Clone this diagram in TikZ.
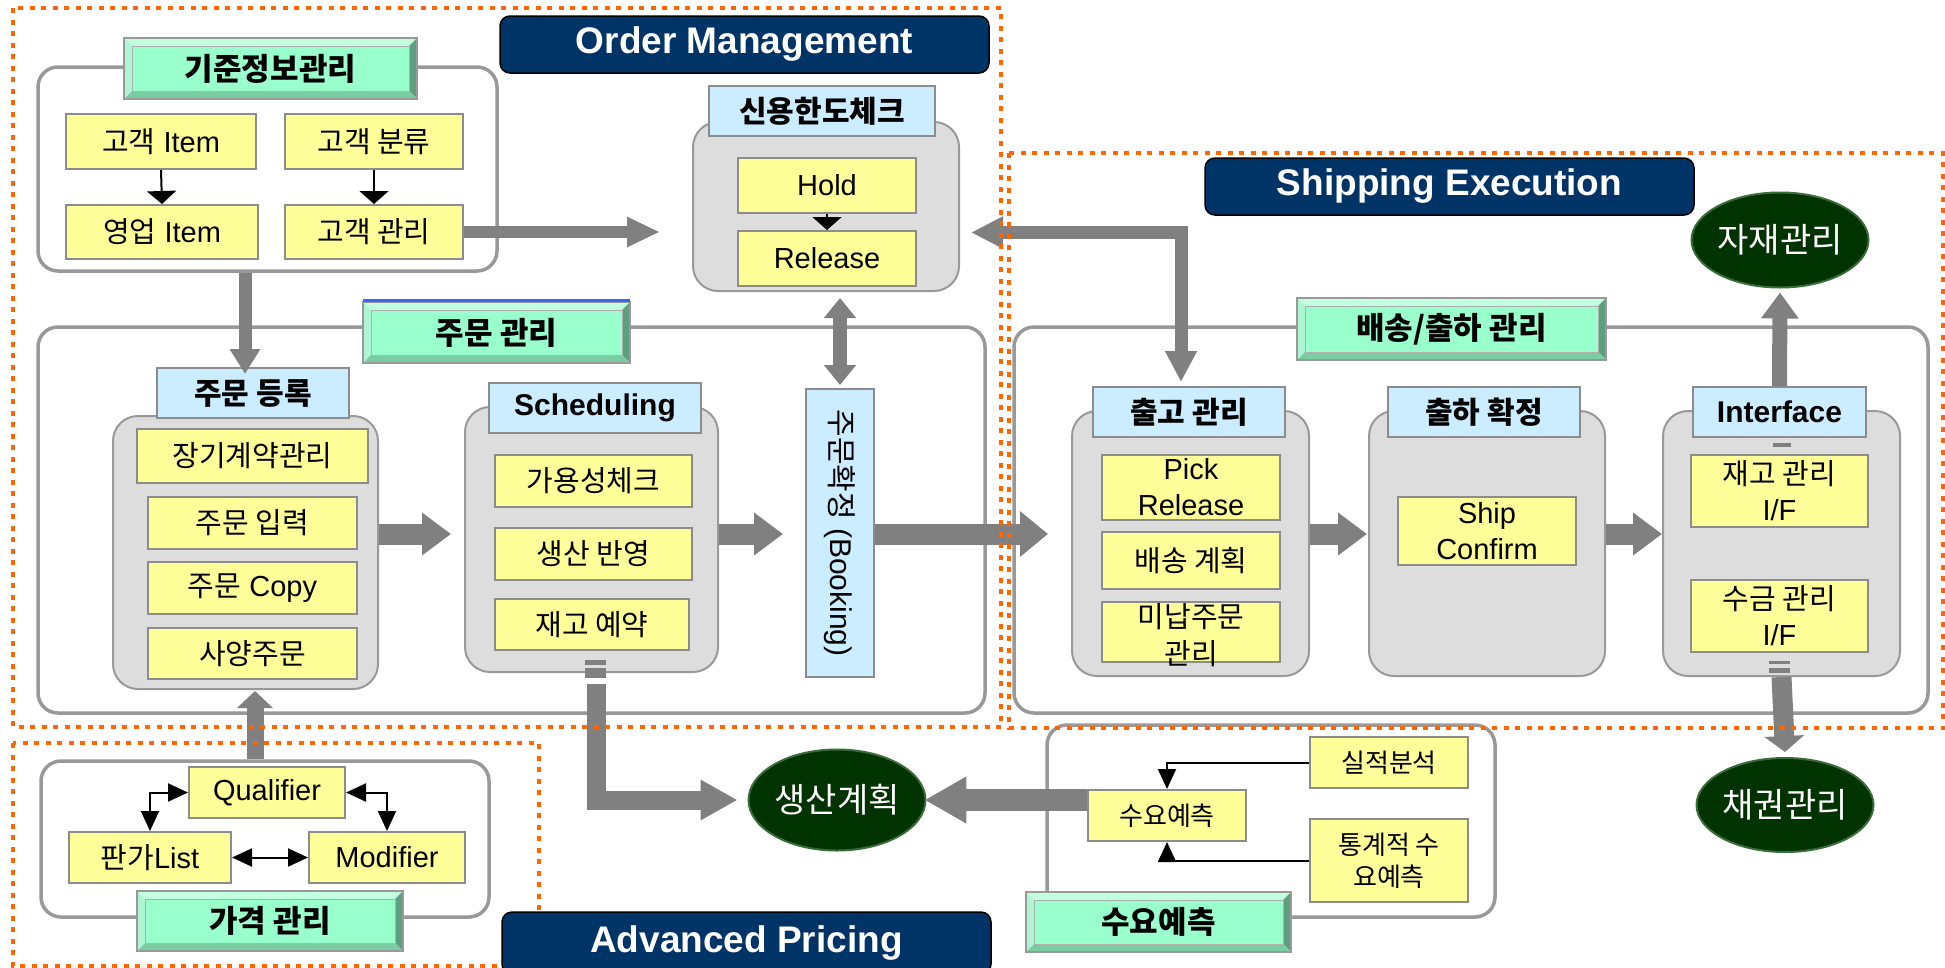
\documentclass[tikz,border=0pt]{standalone}
\usepackage{fontspec}
\setmainfont{Liberation Sans}
\newfontfamily\kr{Noto Sans CJK KR}
\usetikzlibrary{arrows.meta,calc,shapes.geometric}
\definecolor{navy}{HTML}{003366}
\definecolor{orng}{HTML}{FF6600}
\definecolor{blkgray}{HTML}{999999}
\definecolor{grpfill}{HTML}{DDDDDD}
\definecolor{yel}{HTML}{FFFF99}
\definecolor{ltblue}{HTML}{CCECFF}
\definecolor{arrgray}{HTML}{808080}
\definecolor{dkgreen}{HTML}{003300}
\definecolor{ovalrim}{HTML}{3A6B3A}
\definecolor{bvface}{HTML}{99FFCC}
\definecolor{bvtopc}{HTML}{C2FFE0}
\definecolor{bvleftc}{HTML}{B0F5D3}
\definecolor{bvrightc}{HTML}{5F9E7E}
\definecolor{bvbotc}{HTML}{7ACCA3}
\definecolor{edgegray}{HTML}{8C8C8C}
\definecolor{selblue}{HTML}{3366FF}
\tikzset{
  block/.style={draw=blkgray, line width=3.5pt, fill=white, rounded corners=20pt, inner sep=0pt},
  group/.style={draw=blkgray, line width=2pt, fill=grpfill, rounded corners=25pt, inner sep=0pt},
  item/.style={draw=edgegray, line width=2pt, fill=yel, inner sep=0pt, align=center, font=\fontsize{29}{36}\selectfont},
  itemsm/.style={draw=edgegray, line width=2pt, fill=yel, inner sep=0pt, align=center, font=\fontsize{26}{32}\selectfont},
  gtitle/.style={draw=edgegray, line width=2pt, fill=ltblue, inner sep=0pt, align=center, font=\fontsize{30}{34}\selectfont\bfseries},
  bkbox/.style={draw=edgegray, line width=2pt, fill=ltblue, inner sep=0pt},
  bvfacest/.style={draw=edgegray!70, line width=1pt, fill=bvface, inner sep=0pt, font=\fontsize{31}{34}\selectfont\bfseries},
  bvline/.style={draw=blkgray, line width=1.5pt},
  navylabel/.style={draw=black, line width=1.5pt, fill=navy, rounded corners=10pt, text=white, inner sep=0pt, font=\fontsize{37}{40}\selectfont\bfseries},
  oval/.style={ellipse, fill=dkgreen, draw=ovalrim, line width=2pt, text=white, inner sep=0pt, font=\fontsize{34}{38}\selectfont},
  region/.style={draw=orng, line width=4.5pt, dash pattern=on 5pt off 6.5pt},
  fatbase/.style={draw=arrgray},
  arrA/.style={fatbase, line width=12pt, -{Triangle[width=28pt,length=33pt]}},
  arrB/.style={fatbase, line width=13pt, -{Triangle[width=29pt,length=25pt]}},
  arrDbl/.style={fatbase, line width=14pt, {Triangle[width=31pt,length=20pt]}-{Triangle[width=31pt,length=20pt]}},
  arrElbow/.style={fatbase, line width=13pt, {Triangle[width=30pt,length=31pt]}-{Triangle[width=30pt,length=32pt]}},
  arrRow/.style={fatbase, line width=21pt, -{Triangle[width=41pt,length=29pt]}},
  arrUp/.style={fatbase, line width=15pt, -{Triangle[width=36pt,length=26pt]}},
  arrDown/.style={fatbase, line width=20pt, -{Triangle[width=39pt,length=16pt]}},
  arrPlan/.style={fatbase, line width=19pt, -{Triangle[width=38pt,length=37pt]}},
  arrDem/.style={fatbase, line width=22pt, -{Triangle[width=44pt,length=42pt]}},
  arrPrice/.style={fatbase, line width=17pt, -{Triangle[width=35pt,length=17pt]}},
  thinA/.style={draw=black, line width=2pt, -{Triangle[width=29pt,length=13pt]}},
  thinB/.style={draw=black, line width=2pt, -{Triangle[width=18pt,length=20pt]}},
  thinC/.style={draw=black, line width=2pt, {Triangle[width=18pt,length=20pt]}-{Triangle[width=18pt,length=20pt]}},
}
\newcommand\boxnode[7]{\node[#2, minimum width={((#5)-(#3))*1pt}, minimum height={((#6)-(#4))*1pt}] (#1) at ({((#3)+(#5))/2},{((#4)+(#6))/2}) {#7};}
\newcommand\bevelttl[6]{%
  \fill[bvtopc] (#2,#3) -- (#4,#3) -- ({#4-8},{#3+8}) -- ({#2+8},{#3+8}) -- cycle;
  \fill[bvleftc] (#2,#3) -- ({#2+8},{#3+8}) -- ({#2+8},{#5-8}) -- (#2,#5) -- cycle;
  \fill[bvrightc] (#4,#3) -- (#4,#5) -- ({#4-8},{#5-8}) -- ({#4-8},{#3+8}) -- cycle;
  \fill[bvbotc] (#2,#5) -- (#4,#5) -- ({#4-8},{#5-8}) -- ({#2+8},{#5-8}) -- cycle;
  \boxnode{#1}{bvfacest}{#2+8}{#3+8}{#4-8}{#5-8}{#6}
  \draw[bvline] (#2,#3) rectangle (#4,#5);}
\begin{document}
\begin{tikzpicture}[x=1pt,y=-1pt]
\useasboundingbox (0,0) rectangle (1945,967);
\fill[white] (0,0) rectangle (1945,967);

% ---------- big blocks ----------
\boxnode{kijun}{block}{38}{67}{497}{271}{}
\boxnode{jumun}{block}{38}{327}{985}{713}{}
\boxnode{bs}{block}{1014}{327}{1928}{713}{}
\boxnode{sdb}{block}{1047}{725}{1495}{917}{}
\boxnode{price}{block}{41}{761}{489}{917}{}

% ---------- bevel titles ----------
\bevelttl{kijunT}{124}{38}{417}{99}{\kr 기준정보관리}
\bevelttl{jumunT}{363}{302}{630}{363}{\kr 주문 관리}
\draw[selblue, line width=3pt] (363,300.5) -- (630,300.5);
\bevelttl{bsT}{1297}{298}{1606}{360}{\kr 배송/출하 관리}
\bevelttl{sdT}{1026}{892}{1291}{952}{\kr 수요예측}
\bevelttl{priceT}{137}{891}{403}{951}{\kr 가격 관리}

% ---------- 기준정보관리 ----------
\boxnode{ci}{item}{66}{114}{256}{169}{{\kr 고객} Item}
\boxnode{cc}{item}{285}{114}{463}{169}{\kr 고객 분류}
\boxnode{yi}{item}{66}{205}{258}{259}{{\kr 영업} Item}
\boxnode{gm}{item}{285}{205}{463}{259}{\kr 고객 관리}

% ---------- 신용한도체크 ----------
\boxnode{credit}{group}{693}{122}{959}{291}{}
\boxnode{creditT}{gtitle}{709}{86}{935}{136}{\kr 신용한도체크}
\boxnode{hold}{item}{738}{158}{916}{213}{Hold}
\boxnode{rel}{item}{738}{231}{916}{286}{Release}

% ---------- 주문 등록 ----------
\boxnode{reg}{group}{113}{416}{378}{689}{}
\boxnode{regT}{gtitle}{157}{368}{349}{418}{\kr 주문 등록}
\boxnode{r1}{item}{137}{429}{368}{483}{\kr 장기계약관리}
\boxnode{r2}{item}{148}{497}{357}{549}{\kr 주문 입력}
\boxnode{r3}{item}{148}{562}{357}{614}{{\kr 주문} Copy}
\boxnode{r4}{item}{148}{628}{357}{679}{\kr 사양주문}

% ---------- Scheduling ----------
\boxnode{sch}{group}{465}{407}{718}{672}{}
\boxnode{schT}{gtitle}{489}{383}{701}{433}{Scheduling}
\boxnode{s1}{item}{495}{455}{692}{507}{\kr 가용성체크}
\boxnode{s2}{item}{495}{528}{692}{580}{\kr 생산 반영}
\boxnode{s3}{item}{495}{599}{689}{650}{\kr 재고 예약}

% ---------- Booking ----------
\boxnode{bk}{bkbox}{806}{389}{874}{677}{}
\node[rotate=-90, inner sep=0pt, font=\fontsize{30}{34}\selectfont] (bkT) at (bk.center) {{\kr 주문확정} (Booking)};

% ---------- Shipping groups ----------
\boxnode{chG}{group}{1072}{411}{1309}{676}{}
\boxnode{chT}{gtitle}{1093}{387}{1285}{437}{\kr 출고 관리}
\boxnode{c1}{item}{1102}{455}{1280}{520}{Pick\\Release}
\boxnode{c2}{item}{1102}{532}{1280}{589}{\kr 배송 계획}
\boxnode{c3}{item}{1102}{602}{1280}{662}{}
\node[inner sep=0pt, align=center, font=\fontsize{29}{37}\selectfont] (c3t) at ($(c3.center)+(0,3)$) {{\kr 미납주문}\\{\kr 관리}};
\boxnode{shG}{group}{1369}{411}{1605}{676}{}
\boxnode{shT}{gtitle}{1388}{387}{1580}{437}{\kr 출하 확정}
\boxnode{sc}{item}{1398}{497}{1576}{565}{Ship\\Confirm}
\boxnode{ifG}{group}{1663}{411}{1900}{676}{}
\boxnode{ifT}{gtitle}{1693}{387}{1866}{437}{Interface}
\boxnode{if1}{item}{1691}{455}{1868}{527}{{\kr 재고 관리}\\I/F}
\boxnode{if2}{item}{1691}{580}{1868}{652}{{\kr 수금 관리}\\I/F}

% ---------- ovals ----------
\node[oval, minimum width=166pt, minimum height=95pt] (jj) at (1780,240) {\kr 자재관리};
\node[oval, minimum width=166pt, minimum height=94pt] (ck) at (1785,805) {\kr 채권관리};
\node[oval, minimum width=167pt, minimum height=101pt] (plan) at (837,800) {\kr 생산계획};

% ---------- 수요예측 ----------
\boxnode{perf}{itemsm}{1310}{737}{1468}{788}{\kr 실적분석}
\boxnode{sy}{itemsm}{1088}{790}{1246}{841}{\kr 수요예측}
\boxnode{stat}{itemsm}{1310}{819}{1468}{902}{{\kr 통계적 수}\\{\kr 요예측}}

% ---------- 가격 관리 ----------
\boxnode{qual}{item}{189}{767}{345}{818}{Qualifier}
\boxnode{pl}{item}{69}{832}{231}{883}{{\kr 판가}List}
\boxnode{mod}{item}{309}{832}{465}{883}{Modifier}

% ---------- thin connectors ----------
\draw[thinA] (ci.south) -- (yi.north);
\draw[thinA] (cc.south) -- (gm.north);
\draw[thinA] (hold.south) -- (rel.north);
\draw[thinB] (perf.west) -| (sy.north);
\draw[thinB] (stat.west) -| (sy.south);
\draw[thinC] (qual.west) -| (pl.north);
\draw[thinC] (qual.east) -| (mod.north);
\draw[thinC] (pl.east) -- (mod.west);

% ---------- thick connectors ----------
\coordinate (row) at (0,534);
\coordinate (xK) at (245,0);
\coordinate (xE) at (1181,0);
\coordinate (xP) at (596,0);
\coordinate (xG) at (255,0);
\draw[arrA] (gm.east) -- ($(credit.west |- gm.east)+(-32,0)$);
\draw[arrB] (kijun.south -| xK) -- ($(regT.north -| xK)+(0,7)$);
\draw[arrDbl] ($(bk.north |- credit.south)+(0,6)$) -- ($(bk.north)+(0,-3)$);
\draw[arrElbow] ($(chT.north -| xE)+(0,-4)$) |- ($(credit.east)+(11,26)$);
\draw[arrRow] (reg.east |- row) -- ($(sch.west |- row)+(-13,0)$);
\draw[arrRow] (sch.east |- row) -- ($(bk.west |- row)+(-22,0)$);
\draw[arrRow, -{Triangle[width=44pt,length=28pt]}] (bk.east |- row) -- ($(chG.west |- row)+(-23,0)$);
\draw[arrRow] (chG.east |- row) -- ($(shG.west |- row)+(-1,0)$);
\draw[arrRow] (shG.east |- row) -- (ifG.west |- row);
\draw[arrUp] (ifT.north) -- ($(jj.south)+(0,4)$);
\draw[arrDown] (ifG.south) -- ($(ck.north)+(0,-5)$);
\draw[arrPlan] ($(sch.south -| xP)+(0,11)$) |- ($(plan.west)+(-10,0)$);
\draw[arrDem] (sy.west |- plan.east) -- ($(plan.east)+(-2,0)$);
\draw[arrPrice] (price.north -| xG) -- ($(reg.south -| xG)+(0,1)$);

% ---------- small gray marks ----------
\fill[arrgray] (585,660) rectangle (606,665);
\fill[arrgray] (585,668) rectangle (606,678);
\fill[arrgray] (1773,443) rectangle (1791,447);
\fill[arrgray] (1769,661) rectangle (1790,664);
\fill[arrgray] (1769,668) rectangle (1790,673);

% ---------- dotted regions ----------
\draw[region] (13,8) rectangle (1001,727);
\draw[region] (1009,153) rectangle (1943,728);
\draw[region] (13,743) rectangle (539,966);

% ---------- navy labels ----------
\boxnode{omL}{navylabel}{500}{16}{989}{73}{Order Management}
\boxnode{seL}{navylabel}{1205}{158}{1694}{215}{Shipping Execution}
\boxnode{apL}{navylabel}{502}{912}{991}{974}{Advanced Pricing}
\end{tikzpicture}
\end{document}
